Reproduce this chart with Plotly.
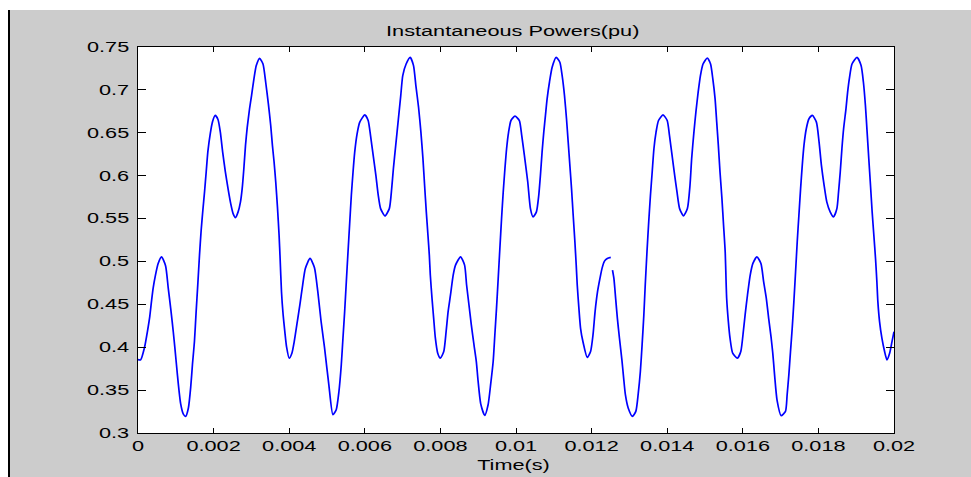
import plotly.graph_objects as go

# Time (s) and instantaneous power (pu)
time_s = [
    0.0, 0.00007, 0.000178, 0.000249, 0.000311, 0.000356, 0.0004, 0.000462, 0.000533, 0.000622,
    0.000729, 0.0008, 0.000871, 0.000933, 0.000978, 0.001022, 0.001067, 0.001129, 0.0012, 0.001262,
    0.001333, 0.001396, 0.00144, 0.001493, 0.001538, 0.001582, 0.001627, 0.001671, 0.001716,
    0.00176, 0.001804, 0.001849, 0.001911, 0.001973, 0.002044,
    0.002116, 0.002178, 0.00224, 0.002311, 0.002382, 0.002453, 0.002516, 0.002578,
    0.002649, 0.002711, 0.002756, 0.0028, 0.002844, 0.002889, 0.002951, 0.003004, 0.003067, 0.003129, 0.003218,
    0.003307, 0.003378, 0.003449, 0.003511, 0.003556, 0.0036, 0.003644, 0.003689, 0.003733, 0.00376,
    0.003796, 0.00384, 0.003884, 0.003929, 0.004,
    0.004071, 0.004133, 0.004222, 0.004284, 0.004356, 0.004427, 0.004551,
    0.004667, 0.004756, 0.004844, 0.004933, 0.004996, 0.005049, 0.005156,
    0.005244, 0.005316, 0.005378, 0.005422, 0.005467, 0.005511, 0.005556, 0.0056, 0.005644,
    0.005689, 0.005733, 0.005796, 0.005867, 0.006,
    0.006089, 0.006151, 0.006222, 0.006293, 0.006356, 0.006418, 0.006533,
    0.006649, 0.006711, 0.006756, 0.006818, 0.006889, 0.006951, 0.007004, 0.007093, 0.0072,
    0.007289, 0.007351, 0.007422, 0.007484, 0.007538, 0.007582, 0.007627, 0.007671, 0.007707,
    0.007733, 0.007778, 0.007822, 0.007867, 0.007929, 0.008,
    0.008089, 0.008151, 0.008204, 0.008267, 0.008338, 0.0084, 0.008533,
    0.00864, 0.008693, 0.008756, 0.008818, 0.008889, 0.008951, 0.008996, 0.009067, 0.009173,
    0.009262, 0.009333, 0.009396, 0.00944, 0.009484, 0.009529, 0.009573, 0.009618, 0.009662,
    0.009707, 0.009751, 0.009804, 0.009867, 0.009973,
    0.010089, 0.010151, 0.010222, 0.010311, 0.010382, 0.010451,
    0.01054, 0.010602, 0.010646, 0.01069, 0.010735, 0.010779, 0.010823, 0.010885, 0.010956, 0.011062,
    0.01116, 0.011221, 0.011283, 0.011336, 0.011381, 0.011425, 0.011469, 0.011513, 0.011558,
    0.011593, 0.01162, 0.011664, 0.011708, 0.01177, 0.011885,
    0.011973, 0.012037, 0.012092, 0.012157, 0.012221, 0.012276, 0.012341, 0.012415, 0.012507,
    0.01253,
    0.012553, 0.01259, 0.012636, 0.012682, 0.012737, 0.012802, 0.012848, 0.012894, 0.012968, 0.013078,
    0.01317, 0.013235, 0.01329, 0.013336, 0.013382, 0.013419, 0.013465, 0.013511, 0.013557,
    0.013603, 0.013649, 0.013705, 0.01377, 0.013889,
    0.014, 0.01406, 0.014129, 0.014198, 0.014259, 0.014328, 0.014431,
    0.014534, 0.014603, 0.014647, 0.014707, 0.014759, 0.014819, 0.014879, 0.014948, 0.01506,
    0.015147, 0.015207, 0.015267, 0.01531, 0.015353, 0.015397, 0.015448, 0.015491, 0.015534,
    0.015573, 0.015618, 0.015662, 0.015733, 0.015858,
    0.015947, 0.016018, 0.016062, 0.016124, 0.016196, 0.016267, 0.016373,
    0.01648, 0.016551, 0.016622, 0.016684, 0.016747, 0.016791, 0.016818, 0.016844, 0.016907, 0.017013,
    0.017129, 0.017173, 0.017218, 0.017262, 0.017307, 0.017351, 0.017396, 0.01744, 0.017484,
    0.017529, 0.017573, 0.017618, 0.01768, 0.017751, 0.01784,
    0.017947, 0.018018, 0.01808, 0.018151, 0.018222, 0.018311, 0.0184,
    0.018489, 0.018533, 0.018578, 0.018622, 0.018667, 0.018729, 0.018773, 0.018818, 0.018889, 0.019022,
    0.019129, 0.019191, 0.019244, 0.019289, 0.019333, 0.019378, 0.019422, 0.019467, 0.019511,
    0.019547, 0.019573, 0.019618, 0.01968, 0.019751, 0.019813,
    0.019884, 0.019947, 0.02,
]
power_pu = [
    0.3855, 0.3853, 0.4008, 0.4182, 0.4357, 0.4531, 0.4686, 0.4841, 0.4977, 0.5054,
    0.4950, 0.4690, 0.4430, 0.4180, 0.3980, 0.3775, 0.3570, 0.3340, 0.3220, 0.3194,
    0.3291, 0.3543, 0.3795, 0.4066, 0.4415, 0.4733, 0.5074, 0.5364, 0.5597,
    0.581, 0.6043, 0.6283, 0.6488, 0.6632, 0.6702,
    0.6655, 0.6508, 0.6275, 0.6043, 0.5849, 0.5674, 0.5558, 0.5512,
    0.5578, 0.5694, 0.5849, 0.6081, 0.6353, 0.6560, 0.6780, 0.6934, 0.7128, 0.7283, 0.7368,
    0.7302, 0.7089, 0.6837, 0.6585, 0.6353, 0.6159, 0.5926, 0.5636, 0.5300, 0.5030,
    0.4647, 0.4376, 0.4182, 0.4008, 0.3872,
    0.393, 0.4066, 0.4320, 0.4500, 0.4725, 0.4919, 0.5035,
    0.4930, 0.4650, 0.4300, 0.4000, 0.3760, 0.3562, 0.3213,
    0.3271, 0.3484, 0.3795, 0.4105, 0.4415, 0.4764, 0.5112, 0.5442, 0.5771,
    0.6043, 0.6275, 0.6488, 0.6624, 0.6709,
    0.6643, 0.6469, 0.6236, 0.6004, 0.5771, 0.5616, 0.5531,
    0.5616, 0.5849, 0.6081, 0.6353, 0.6663, 0.6934, 0.7167, 0.7302, 0.738,
    0.7283, 0.705, 0.6798, 0.6508, 0.6198, 0.5888, 0.5578, 0.5306, 0.5074,
    0.4841, 0.457, 0.4337, 0.4105, 0.393, 0.3872,
    0.395, 0.4182, 0.4415, 0.4609, 0.4841, 0.4957, 0.5054,
    0.4957, 0.4725, 0.4492, 0.426, 0.4027, 0.3830, 0.3610, 0.3340, 0.3205,
    0.3329, 0.3581, 0.3833, 0.4143, 0.4453, 0.4802, 0.5151, 0.55, 0.581,
    0.6081, 0.6314, 0.6508, 0.6643, 0.6694,
    0.6643, 0.6469, 0.6236, 0.5926, 0.5616, 0.5519,
    0.5578, 0.5771, 0.6004, 0.6275, 0.6508, 0.6702, 0.6895, 0.7089, 0.7264, 0.738,
    0.7322, 0.7167, 0.6934, 0.6663, 0.6391, 0.612, 0.5849, 0.5539, 0.5229,
    0.4957, 0.4725, 0.4453, 0.4221, 0.4066, 0.388,
    0.395, 0.4143, 0.4415, 0.4647, 0.4802, 0.4919, 0.5004, 0.5035, 0.5047,
    None,
    0.4899, 0.4802, 0.457, 0.4337, 0.4105, 0.3850, 0.364, 0.3446, 0.3291, 0.3194,
    0.3252, 0.3465, 0.3717, 0.4027, 0.4376, 0.4725, 0.5112, 0.5461, 0.5771,
    0.6043, 0.6314, 0.6508, 0.6643, 0.6709,
    0.6643, 0.6469, 0.6236, 0.6004, 0.581, 0.5616, 0.5531,
    0.5616, 0.5888, 0.6198, 0.6508, 0.674, 0.6973, 0.7167, 0.7302, 0.7372,
    0.7302, 0.7128, 0.6895, 0.6624, 0.6353, 0.6043, 0.5733, 0.5422, 0.5112,
    0.457, 0.4298, 0.4105, 0.393, 0.3872,
    0.395, 0.4200, 0.4380, 0.4609, 0.4841, 0.4977, 0.5054,
    0.4977, 0.4764, 0.457, 0.4337, 0.4120, 0.3940, 0.3800, 0.3660, 0.3380, 0.3202,
    0.3252, 0.3446, 0.3678, 0.395, 0.4221, 0.4531, 0.488, 0.5229, 0.5539,
    0.5849, 0.612, 0.6353, 0.6547, 0.6663, 0.6702,
    0.6624, 0.6391, 0.612, 0.5888, 0.5694, 0.5578, 0.5519,
    0.5616, 0.581, 0.6043, 0.6314, 0.6547, 0.6779, 0.6973, 0.7128, 0.7302, 0.738,
    0.7283, 0.7089, 0.6818, 0.6508, 0.6198, 0.5888, 0.5578, 0.5306, 0.5035,
    0.4764, 0.4531, 0.4298, 0.4105, 0.395, 0.3853,
    0.393, 0.4066, 0.418,
]

x_tick_vals = [0, 0.002, 0.004, 0.006, 0.008, 0.01, 0.012, 0.014, 0.016, 0.018, 0.02]
x_tick_text = ["0", "0.002", "0.004", "0.006", "0.008", "0.01", "0.012", "0.014", "0.016", "0.018", "0.02"]
y_tick_vals = [0.3, 0.35, 0.4, 0.45, 0.5, 0.55, 0.6, 0.65, 0.7, 0.75]
y_tick_text = ["0.3", "0.35", "0.4", "0.45", "0.5", "0.55", "0.6", "0.65", "0.7", "0.75"]

title_text = "Instantaneous Powers(pu)"
xlabel_text = "Time(s)"

FONT = "Liberation Sans, Arial, sans-serif"
FS = 14
W, H = 971, 477
L, R, T, B = 138, 77, 47, 44
pw, ph = W - L - R, H - T - B

def px_x(p):
    return (p - L) / pw

def px_y(p):
    return (H - B - p) / ph

fig = go.Figure()
fig.add_trace(go.Scatter(
    x=time_s, y=power_pu, mode="lines",
    line=dict(color="#0000ff", width=1.7, shape="spline", smoothing=0.6),
    connectgaps=False, hoverinfo="skip", showlegend=False,
))

axis_common = dict(
    showline=True, linecolor="black", linewidth=1, mirror="ticks",
    ticks="inside", tickcolor="black", showgrid=False, zeroline=False,
    tickfont=dict(family=FONT, size=FS, color="black"),
)

fig.update_xaxes(range=[0, 0.02], tickvals=x_tick_vals, ticktext=x_tick_text,
                 ticklen=5, **axis_common)
fig.update_yaxes(range=[0.3, 0.75], tickvals=y_tick_vals, ticktext=y_tick_text,
                 ticklen=8, ticklabelstandoff=5, **axis_common)

fig.update_layout(
    width=W, height=H,
    margin=dict(l=L, r=R, t=T, b=B),
    paper_bgcolor="#cccccc", plot_bgcolor="white",
    shapes=[
        dict(type="rect", xref="paper", yref="paper", x0=-0.5, x1=1.5,
             y0=px_y(10), y1=1.5, fillcolor="white", line=dict(width=0)),
        dict(type="rect", xref="paper", yref="paper", x0=-0.5, x1=px_x(8),
             y0=-0.5, y1=1.5, fillcolor="white", line=dict(width=0)),
        dict(type="line", xref="paper", yref="paper", x0=px_x(9), x1=px_x(9),
             y0=-0.5, y1=px_y(10), line=dict(color="black", width=2)),
    ],
    annotations=[
        dict(text=title_text, xref="paper", yref="paper", x=px_x(512), y=px_y(31),
             xanchor="center", yanchor="middle", showarrow=False,
             font=dict(family=FONT, size=FS, color="black")),
        dict(text=xlabel_text, xref="paper", yref="paper", x=px_x(513), y=px_y(465),
             xanchor="center", yanchor="middle", showarrow=False,
             font=dict(family=FONT, size=FS, color="black")),
    ],
)

# The reference text is horizontally stretched; widen glyphs via SVG textLength.
post_js = """
var STRETCH = 1.55;
document.querySelectorAll('.xtick text, .ytick text, .annotation-text').forEach(function(el){
  var w = el.getComputedTextLength();
  el.setAttribute('textLength', (w * STRETCH).toFixed(1));
  el.setAttribute('lengthAdjust', 'spacingAndGlyphs');
});
"""

fig.write_html("out.html", post_script=post_js)
